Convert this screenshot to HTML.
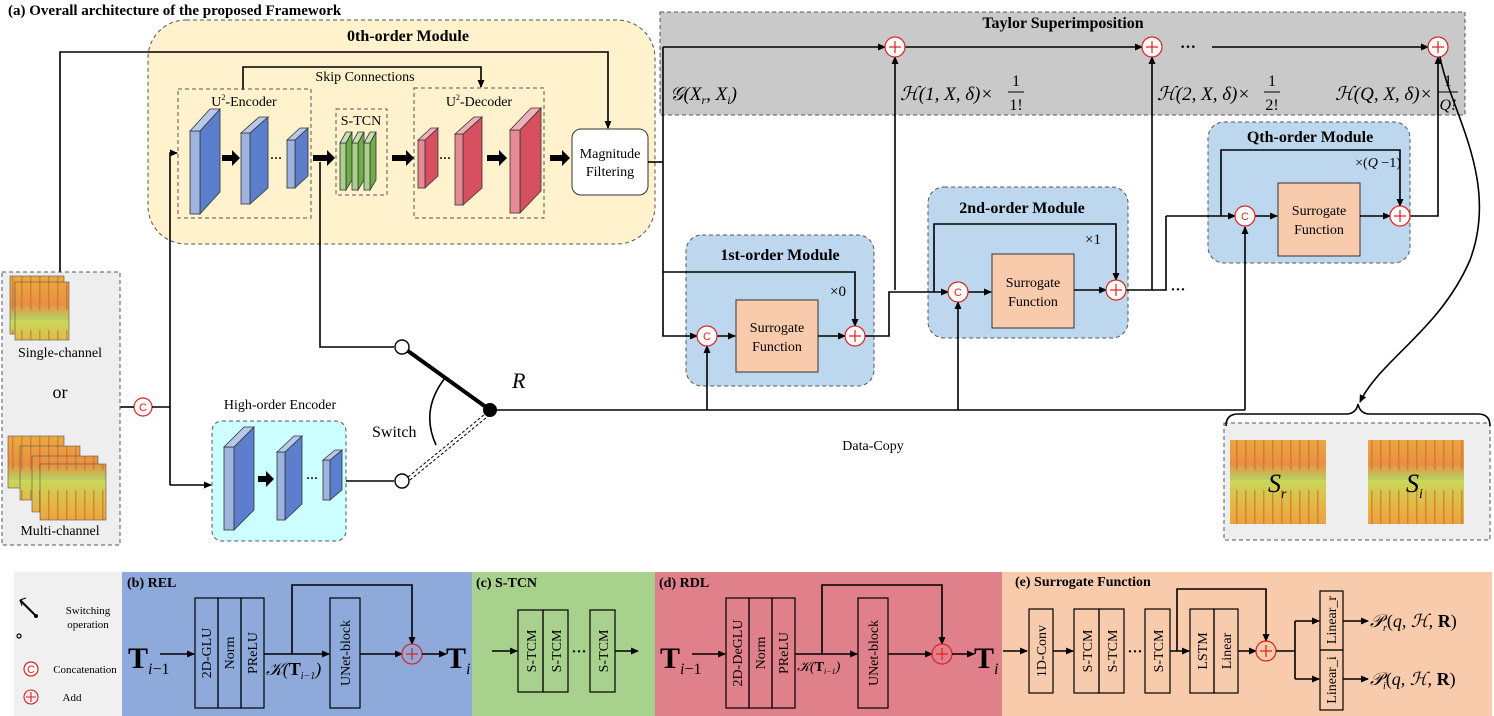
<!DOCTYPE html>
<html><head><meta charset="utf-8"><style>
html,body{margin:0;padding:0;background:#fff;}
svg{display:block;font-family:"Liberation Serif",serif;}
</style></head><body>
<svg width="1494" height="716" viewBox="0 0 1494 716" xmlns="http://www.w3.org/2000/svg">
<defs>
<marker id="a" markerWidth="8" markerHeight="8" refX="7" refY="4" orient="auto" markerUnits="userSpaceOnUse"><path d="M0,0.5 L8,4 L0,7.5 z" fill="#000"/></marker>
<linearGradient id="sp" x1="0" y1="0" x2="0" y2="1"><stop offset="0" stop-color="#c8d85a"/><stop offset="0.4" stop-color="#e8b040"/><stop offset="0.8" stop-color="#e89040"/><stop offset="1" stop-color="#b8d060"/></linearGradient>
<pattern id="st" width="9" height="80" patternUnits="userSpaceOnUse"><rect width="9" height="80" fill="url(#sp)"/><rect x="3" y="10" width="1.5" height="60" fill="#d06030" opacity="0.6"/></pattern>
</defs>
<style>
.l{stroke:#000;stroke-width:1.6;fill:none}
.d{stroke:#555;stroke-width:1;stroke-dasharray:4 3;fill:none}
.t{font-size:14px}
.b{font-weight:bold}
.c{fill:#fff;stroke:#e02020;stroke-width:1.2}
.ct{fill:#e02020;font-size:11px;font-family:"Liberation Sans",sans-serif}
</style>

<text x="8" y="15" class="b" font-size="15">(a) Overall architecture of the proposed Framework</text>

<rect x="148" y="20" width="507" height="224" rx="38" fill="#fff2cc" stroke="#555" stroke-dasharray="4 3"/>
<text x="408" y="41" class="b" font-size="16" text-anchor="middle">0th-order Module</text>

<rect x="660" y="12" width="805" height="103" fill="#c9c9c9" stroke="#555" stroke-dasharray="4 3"/>
<text x="1063" y="28" class="b" font-size="16" text-anchor="middle">Taylor Superimposition</text>

<!-- modules backgrounds first -->
<rect x="686" y="235" width="188" height="151" rx="16" fill="#bdd7ee" stroke="#555" stroke-dasharray="4 3"/>
<rect x="928" y="187" width="200" height="151" rx="16" fill="#bdd7ee" stroke="#555" stroke-dasharray="4 3"/>
<rect x="1208" y="122" width="202" height="141" rx="16" fill="#bdd7ee" stroke="#555" stroke-dasharray="4 3"/>

<polyline class="l" points="60,275 60,52 608,52 608,128" marker-end="url(#a)"/>
<polyline class="l" points="243,90 243,67 481,67 481,87" marker-end="url(#a)"/>
<text x="365" y="81" class="t" text-anchor="middle">Skip Connections</text>

<rect x="178" y="89" width="133" height="129" class="d" stroke="#333"/>
<text x="244" y="106" class="t" text-anchor="middle">U<tspan font-size="8" dy="-6">2</tspan><tspan dy="6">-Encoder</tspan></text>
<rect x="336" y="109" width="51" height="86" class="d" stroke="#333"/>
<text x="361" y="125" class="t" text-anchor="middle">S-TCN</text>
<rect x="414" y="88" width="130" height="130" class="d" stroke="#333"/>
<text x="479" y="106" class="t" text-anchor="middle">U<tspan font-size="8" dy="-6">2</tspan><tspan dy="6">-Decoder</tspan></text>

<g stroke="#333" stroke-width="0.8">
<polygon points="200,131 220,109 220,192 200,214" fill="#5b7fcc"/><rect x="190" y="131" width="10" height="83" fill="#9db3e0"/><polygon points="190,131 210,109 220,109 200,131" fill="#b8c8ea"/>
<polygon points="250,133 268,117 268,188 250,204" fill="#5b7fcc"/><rect x="241" y="133" width="9" height="71" fill="#9db3e0"/><polygon points="241,133 259,117 268,117 250,133" fill="#b8c8ea"/>
<polygon points="295,140 308,128 308,176 295,188" fill="#5b7fcc"/><rect x="287" y="140" width="8" height="48" fill="#9db3e0"/><polygon points="287,140 300,128 308,128 295,140" fill="#b8c8ea"/>
<polygon points="346,143 352,132 352,180 346,190" fill="#70ad47"/><rect x="340" y="143" width="6" height="47" fill="#a9d18e"/><polygon points="340,143 346,132 352,132 346,143" fill="#c5e0b4"/>
<polygon points="358,143 364,132 364,180 358,190" fill="#70ad47"/><rect x="352" y="143" width="6" height="47" fill="#a9d18e"/><polygon points="352,143 358,132 364,132 358,143" fill="#c5e0b4"/>
<polygon points="370,143 376,132 376,180 370,190" fill="#70ad47"/><rect x="364" y="143" width="6" height="47" fill="#a9d18e"/><polygon points="364,143 370,132 376,132 370,143" fill="#c5e0b4"/>
<polygon points="425,140 438,128 438,176 425,188" fill="#d6505f"/><rect x="418" y="140" width="7" height="48" fill="#e88a94"/><polygon points="418,140 431,128 438,128 425,140" fill="#f0b0b8"/>
<polygon points="463,134 482,117 482,188 463,205" fill="#d6505f"/><rect x="455" y="134" width="8" height="71" fill="#e88a94"/><polygon points="455,134 474,117 482,117 463,134" fill="#f0b0b8"/>
<polygon points="520,130 541,108 541,191 520,213" fill="#d6505f"/><rect x="510" y="130" width="10" height="83" fill="#e88a94"/><polygon points="510,130 531,108 541,108 520,130" fill="#f0b0b8"/>
</g>
<g fill="#000">
<path d="M222,155 h10 v-5 l8,8 -8,8 v-5 h-10z"/>
<path d="M313,155 h14 v-5 l8,8 -8,8 v-5 h-14z"/>
<path d="M392,155 h14 v-5 l8,8 -8,8 v-5 h-14z"/>
<path d="M487,155 h12 v-5 l8,8 -8,8 v-5 h-12z"/>
<path d="M550,155 h12 v-5 l8,8 -8,8 v-5 h-12z"/>
</g>
<text x="276" y="162" font-size="12" text-anchor="middle" class="b">···</text>
<text x="445" y="162" font-size="12" text-anchor="middle" class="b">···</text>

<rect x="572" y="129" width="76" height="66" rx="9" fill="#fff" stroke="#333"/>
<text x="610" y="158" class="t" text-anchor="middle">Magnitude</text>
<text x="610" y="176" class="t" text-anchor="middle">Filtering</text>

<polyline class="l" points="648,162 663,162"/>
<polyline class="l" points="663,47 663,336 697,336" marker-end="url(#a)"/>
<polyline class="l" points="663,47 885,47" marker-end="url(#a)"/>
<polyline class="l" points="663,272 855,272 855,326" marker-end="url(#a)"/>

<polyline class="l" points="905,47 1142,47" marker-end="url(#a)"/>
<text x="1188" y="52" font-size="16" class="b" text-anchor="middle">···</text>
<polyline class="l" points="1212,47 1428,47" marker-end="url(#a)"/>
<g font-size="19" font-style="italic">
<text x="670" y="100">𝒢(X<tspan font-size="12" dy="4">r</tspan><tspan dy="-4">, X</tspan><tspan font-size="12" dy="4">i</tspan><tspan dy="-4">)</tspan></text>
<text x="900" y="100">ℋ(1, X, δ)×</text>
<text x="1157" y="100">ℋ(2, X, δ)×</text>
<text x="1335" y="100">ℋ(Q, X, δ)×</text>
</g>
<g font-size="16" text-anchor="middle">
<text x="1016" y="86">1</text><line x1="1008" y1="92" x2="1024" y2="92" stroke="#000"/><text x="1016" y="110">1!</text>
<text x="1272" y="86">1</text><line x1="1264" y1="92" x2="1280" y2="92" stroke="#000"/><text x="1272" y="110">2!</text>
<text x="1448" y="86">1</text><line x1="1438" y1="92" x2="1458" y2="92" stroke="#000"/><text x="1448" y="110" font-style="italic">Q!</text>
</g>

<text x="780" y="260" class="b" font-size="16" text-anchor="middle">1st-order Module</text>
<rect x="736" y="300" width="82" height="72" fill="#f8cbad" stroke="#333"/>
<text x="777" y="332" class="t" text-anchor="middle">Surrogate</text>
<text x="777" y="351" class="t" text-anchor="middle">Function</text>
<text x="838" y="296" font-size="15" text-anchor="middle">×0</text>
<text x="1022" y="213" class="b" font-size="16" text-anchor="middle">2nd-order Module</text>
<rect x="992" y="254" width="82" height="74" fill="#f8cbad" stroke="#333"/>
<text x="1033" y="287" class="t" text-anchor="middle">Surrogate</text>
<text x="1033" y="306" class="t" text-anchor="middle">Function</text>
<text x="1093" y="244" font-size="15" text-anchor="middle">×1</text>
<text x="1310" y="142" class="b" font-size="16" text-anchor="middle">Qth-order Module</text>
<rect x="1278" y="183" width="82" height="73" fill="#f8cbad" stroke="#333"/>
<text x="1319" y="215" class="t" text-anchor="middle">Surrogate</text>
<text x="1319" y="234" class="t" text-anchor="middle">Function</text>
<text x="1378" y="167" font-size="14" text-anchor="middle">×(<tspan font-style="italic">Q</tspan> −1)</text>

<polyline class="l" points="717,336 735,336" marker-end="url(#a)"/>
<polyline class="l" points="818,336 845,336" marker-end="url(#a)"/>
<polyline class="l" points="865,336 889,336 889,292 948,292" marker-end="url(#a)"/>
<polyline class="l" points="895,290 895,57" marker-end="url(#a)"/>
<polyline class="l" points="934,292 934,224 1116,224 1116,280" marker-end="url(#a)"/>
<polyline class="l" points="968,292 991,292" marker-end="url(#a)"/>
<polyline class="l" points="1074,290 1106,290" marker-end="url(#a)"/>
<polyline class="l" points="1126,290 1152,290 1152,57" marker-end="url(#a)"/>
<polyline class="l" points="1152,290 1166,290 1166,216"/>
<polyline class="l" points="1166,216 1235,216" marker-end="url(#a)"/>
<text x="1178" y="294" font-size="15" class="b" text-anchor="middle">···</text>
<polyline class="l" points="1221,216 1221,150 1400,150 1400,206" marker-end="url(#a)"/>
<polyline class="l" points="1255,216 1277,216" marker-end="url(#a)"/>
<polyline class="l" points="1360,216 1390,216" marker-end="url(#a)"/>
<polyline class="l" points="1410,216 1438,216 1438,57" marker-end="url(#a)"/>

<polyline class="l" points="490,410 1245,410"/>
<polyline class="l" points="707,410 707,346" marker-end="url(#a)"/>
<polyline class="l" points="958,410 958,302" marker-end="url(#a)"/>
<polyline class="l" points="1245,410 1245,227" marker-end="url(#a)"/>
<text x="873" y="450" class="t" text-anchor="middle">Data-Copy</text>

<g>
<circle cx="707" cy="336" r="10" class="c"/><text x="707" y="340" class="ct" text-anchor="middle">C</text>
<circle cx="958" cy="292" r="10" class="c"/><text x="958" y="296" class="ct" text-anchor="middle">C</text>
<circle cx="1245" cy="216" r="10" class="c"/><text x="1245" y="220" class="ct" text-anchor="middle">C</text>
<circle cx="143" cy="407" r="9" class="c"/><text x="143" y="411" class="ct" text-anchor="middle">C</text>
</g>
<g stroke="#e02020" stroke-width="1.2">
<circle cx="855" cy="336" r="10" fill="#fff"/><path d="M849,336h12M855,330v12"/>
<circle cx="1116" cy="290" r="10" fill="#fff"/><path d="M1110,290h12M1116,284v12"/>
<circle cx="1400" cy="216" r="10" fill="#fff"/><path d="M1394,216h12M1400,210v12"/>
<circle cx="895" cy="47" r="10" fill="#fff"/><path d="M889,47h12M895,41v12"/>
<circle cx="1152" cy="47" r="10" fill="#fff"/><path d="M1146,47h12M1152,41v12"/>
<circle cx="1438" cy="47" r="10" fill="#fff"/><path d="M1432,47h12M1438,41v12"/>
</g>

<polyline class="l" points="320,162 320,347 394,347"/>
<polyline class="l" points="170,485 170,153 177,153" marker-end="url(#a)"/>
<polyline class="l" points="120,407 134,407"/>
<polyline class="l" points="152,407 170,407"/>
<polyline class="l" points="170,485 211,485" marker-end="url(#a)"/>
<rect x="212" y="421" width="134" height="120" rx="10" fill="#ccffff" stroke="#555" stroke-dasharray="4 3"/>
<text x="280" y="409" class="t" text-anchor="middle">High-order Encoder</text>
<g stroke="#333" stroke-width="0.8">
<polygon points="234,447 254,427 254,510 234,530" fill="#5b7fcc"/><rect x="224" y="447" width="10" height="83" fill="#9db3e0"/><polygon points="224,447 244,427 254,427 234,447" fill="#b8c8ea"/>
<polygon points="285,452 302,436 302,504 285,520" fill="#5b7fcc"/><rect x="277" y="452" width="8" height="68" fill="#9db3e0"/><polygon points="277,452 294,436 302,436 285,452" fill="#b8c8ea"/>
<polygon points="330,460 342,450 342,490 330,500" fill="#5b7fcc"/><rect x="323" y="460" width="7" height="40" fill="#9db3e0"/><polygon points="323,460 335,450 342,450 330,460" fill="#b8c8ea"/>
</g>
<path d="M258,476 h8 v-5 l8,8 -8,8 v-5 h-8z" fill="#000"/>
<text x="312" y="482" font-size="12" class="b" text-anchor="middle">···</text>
<polyline class="l" points="346,481 394,481"/>
<circle cx="402" cy="347" r="7" fill="#fff" stroke="#000" stroke-width="1.4"/>
<circle cx="402" cy="481" r="7" fill="#fff" stroke="#000" stroke-width="1.4"/>
<line x1="408" y1="351" x2="490" y2="410" stroke="#000" stroke-width="4"/>
<line x1="408" y1="477" x2="490" y2="410" stroke="#000" stroke-width="1" stroke-dasharray="3 2"/>
<line x1="410" y1="480" x2="492" y2="413" stroke="#000" stroke-width="1" stroke-dasharray="3 2"/>
<circle cx="490" cy="410" r="7" fill="#000"/>
<path d="M445,378 Q420,410 436,445" class="l" stroke-width="1.2"/>
<text x="372" y="437" font-size="16">Switch</text>
<text x="512" y="388" font-size="22" font-style="italic">R</text>

<rect x="2" y="272" width="118" height="273" fill="#eeeeee" stroke="#555" stroke-dasharray="4 3"/>
<rect x="10" y="276" width="54" height="58" fill="url(#st)" stroke="#555" stroke-width="0.6"/>
<rect x="15" y="282" width="54" height="58" fill="url(#st)" stroke="#555" stroke-width="0.6"/>
<text x="60" y="357" class="t" text-anchor="middle">Single-channel</text>
<text x="60" y="398" font-size="18" text-anchor="middle">or</text>
<rect x="8" y="436" width="56" height="52" fill="url(#st)" stroke="#555" stroke-width="0.6"/>
<rect x="20" y="446" width="60" height="54" fill="url(#st)" stroke="#555" stroke-width="0.6"/>
<rect x="32" y="456" width="66" height="56" fill="url(#st)" stroke="#555" stroke-width="0.6"/>
<rect x="40" y="464" width="66" height="56" fill="url(#st)" stroke="#555" stroke-width="0.6"/>
<text x="60" y="535" class="t" text-anchor="middle">Multi-channel</text>

<rect x="1224" y="423" width="266" height="117" fill="#eeeeee" stroke="#555" stroke-dasharray="4 3"/>
<rect x="1230" y="440" width="96" height="84" fill="url(#st)"/>
<rect x="1368" y="440" width="96" height="84" fill="url(#st)"/>
<text x="1268" y="492" font-size="26" font-style="italic">S<tspan font-size="14" dy="6">r</tspan></text>
<text x="1406" y="492" font-size="26" font-style="italic">S<tspan font-size="14" dy="6">i</tspan></text>
<path d="M1226,426 Q1226,414 1238,414 L1346,414 Q1356,414 1358,404 Q1360,414 1370,414 L1478,414 Q1490,414 1490,426" class="l" stroke-width="1.4"/>
<path d="M1440,57 C1450,110 1500,180 1470,260 C1440,330 1380,360 1360,402" class="l" stroke-width="1.3" marker-end="url(#a)"/>

<rect x="14" y="572" width="108" height="144" fill="#f0f0f0"/>
<rect x="122" y="572" width="350" height="144" fill="#8eaadb"/>
<rect x="472" y="572" width="183" height="144" fill="#a9d18e"/>
<rect x="655" y="572" width="347" height="144" fill="#e0808a"/>
<rect x="1002" y="572" width="490" height="144" fill="#f8cbad"/>

<line x1="20" y1="600" x2="36" y2="616" stroke="#000" stroke-width="2"/>
<circle cx="36" cy="616" r="2" fill="#000"/>
<path d="M20,600 l6,-2 M20,600 l2,6" stroke="#000" stroke-width="1"/>
<circle cx="19" cy="636" r="2" fill="none" stroke="#000" stroke-width="1.2"/>
<text x="88" y="614" font-size="11" text-anchor="middle">Switching</text>
<text x="88" y="628" font-size="11" text-anchor="middle">operation</text>
<circle cx="31" cy="669" r="7" class="c"/><text x="31" y="673" class="ct" text-anchor="middle">C</text>
<text x="85" y="673" font-size="11" text-anchor="middle">Concatenation</text>
<g stroke="#e02020" stroke-width="1.1"><circle cx="31" cy="697" r="7" fill="none"/><path d="M26,697h10M31,692v10"/></g>
<text x="72" y="701" font-size="11" text-anchor="middle">Add</text>

<text x="127" y="587" class="b" font-size="14">(b) REL</text>
<text x="128" y="668" font-size="30" class="b">T<tspan font-size="16" font-weight="normal" font-style="italic" dy="6">i</tspan><tspan font-size="16" font-weight="normal" dy="0">−1</tspan></text>
<polyline class="l" points="160,654 194,654" marker-end="url(#a)"/>
<g fill="none" stroke="#000" stroke-width="1.2">
<rect x="195" y="598" width="23" height="110"/><rect x="218" y="598" width="23" height="110"/><rect x="241" y="598" width="23" height="110"/>
<rect x="330" y="598" width="30" height="110"/>
</g>
<g font-size="14" text-anchor="middle">
<text transform="translate(211,653) rotate(-90)">2D-GLU</text>
<text transform="translate(234,653) rotate(-90)">Norm</text>
<text transform="translate(257,653) rotate(-90)">PReLU</text>
<text transform="translate(350,653) rotate(-90)">UNet-block</text>
</g>
<text x="266" y="675" font-size="18" font-style="italic">𝒦(<tspan class="b" font-style="normal">T</tspan><tspan font-size="10" dy="4">i−1</tspan><tspan dy="-4">)</tspan></text>
<polyline class="l" points="264,654 329,654" marker-end="url(#a)"/>
<polyline class="l" points="292,654 292,585 412,585 412,644" marker-end="url(#a)"/>
<polyline class="l" points="360,654 402,654" marker-end="url(#a)"/>
<g stroke="#e02020" stroke-width="1.2"><circle cx="412" cy="654" r="10" fill="none"/><path d="M406,654h12M412,648v12"/></g>
<polyline class="l" points="422,654 446,654" marker-end="url(#a)"/>
<text x="446" y="668" font-size="30" class="b">T<tspan font-size="16" font-weight="normal" font-style="italic" dy="6">i</tspan></text>

<text x="476" y="587" class="b" font-size="14">(c) S-TCN</text>
<polyline class="l" points="492,651 517,651" marker-end="url(#a)"/>
<g fill="none" stroke="#000" stroke-width="1.2"><rect x="518" y="610" width="25" height="82"/><rect x="543" y="610" width="25" height="82"/><rect x="590" y="610" width="25" height="82"/></g>
<g font-size="14" text-anchor="middle">
<text transform="translate(536,651) rotate(-90)">S-TCM</text>
<text transform="translate(561,651) rotate(-90)">S-TCM</text>
<text transform="translate(608,651) rotate(-90)">S-TCM</text>
</g>
<text x="579" y="656" font-size="15" text-anchor="middle" class="b">···</text>
<polyline class="l" points="615,651 638,651" marker-end="url(#a)"/>

<text x="659" y="587" class="b" font-size="14">(d) RDL</text>
<text x="660" y="668" font-size="30" class="b">T<tspan font-size="16" font-weight="normal" font-style="italic" dy="6">i</tspan><tspan font-size="16" font-weight="normal">−1</tspan></text>
<polyline class="l" points="692,654 725,654" marker-end="url(#a)"/>
<g fill="none" stroke="#000" stroke-width="1.2">
<rect x="726" y="598" width="23" height="110"/><rect x="749" y="598" width="23" height="110"/><rect x="772" y="598" width="23" height="110"/>
<rect x="858" y="598" width="30" height="110"/>
</g>
<g font-size="14" text-anchor="middle">
<text transform="translate(742,653) rotate(-90)">2D-DeGLU</text>
<text transform="translate(765,653) rotate(-90)">Norm</text>
<text transform="translate(788,653) rotate(-90)">PReLU</text>
<text transform="translate(878,653) rotate(-90)">UNet-block</text>
</g>
<text x="797" y="671" font-size="14" font-style="italic">𝒦(<tspan class="b" font-style="normal">T</tspan><tspan font-size="8" dy="3">i−1</tspan><tspan dy="-3">)</tspan></text>
<polyline class="l" points="795,654 857,654" marker-end="url(#a)"/>
<polyline class="l" points="822,654 822,585 942,585 942,644" marker-end="url(#a)"/>
<polyline class="l" points="888,654 932,654" marker-end="url(#a)"/>
<g stroke="#e02020" stroke-width="1.2"><circle cx="942" cy="654" r="10" fill="none"/><path d="M936,654h12M942,648v12"/></g>
<polyline class="l" points="952,654 974,654" marker-end="url(#a)"/>
<text x="974" y="668" font-size="30" class="b">T<tspan font-size="16" font-weight="normal" font-style="italic" dy="6">i</tspan></text>

<text x="1015" y="586" class="b" font-size="14">(e) Surrogate Function</text>
<polyline class="l" points="1003,651 1027,651" marker-end="url(#a)"/>
<g fill="none" stroke="#000" stroke-width="1.2">
<rect x="1029" y="609" width="24" height="84"/>
<rect x="1074" y="609" width="25" height="84"/><rect x="1099" y="609" width="25" height="84"/>
<rect x="1145" y="609" width="25" height="84"/>
<rect x="1190" y="609" width="24" height="84"/><rect x="1214" y="609" width="24" height="84"/>
<rect x="1320" y="591" width="23" height="59"/><rect x="1320" y="650" width="23" height="60"/>
</g>
<g font-size="14" text-anchor="middle">
<text transform="translate(1046,651) rotate(-90)">1D-Conv</text>
<text transform="translate(1092,651) rotate(-90)">S-TCM</text>
<text transform="translate(1117,651) rotate(-90)">S-TCM</text>
<text transform="translate(1163,651) rotate(-90)">S-TCM</text>
<text transform="translate(1207,651) rotate(-90)">LSTM</text>
<text transform="translate(1231,651) rotate(-90)">Linear</text>
<text transform="translate(1336,620) rotate(-90)">Linear_r</text>
<text transform="translate(1336,680) rotate(-90)">Linear_i</text>
</g>
<polyline class="l" points="1053,651 1073,651" marker-end="url(#a)"/>
<text x="1135" y="656" font-size="15" text-anchor="middle" class="b">···</text>
<polyline class="l" points="1170,651 1189,651" marker-end="url(#a)"/>
<polyline class="l" points="1177,651 1177,589 1266,589 1266,641" marker-end="url(#a)"/>
<polyline class="l" points="1238,651 1256,651" marker-end="url(#a)"/>
<g stroke="#e02020" stroke-width="1.2"><circle cx="1266" cy="651" r="10" fill="none"/><path d="M1260,651h12M1266,645v12"/></g>
<polyline class="l" points="1276,651 1295,651"/>
<polyline class="l" points="1295,621 1295,679"/>
<polyline class="l" points="1295,621 1319,621" marker-end="url(#a)"/>
<polyline class="l" points="1295,679 1319,679" marker-end="url(#a)"/>
<polyline class="l" points="1343,621 1368,621" marker-end="url(#a)"/>
<polyline class="l" points="1343,679 1368,679" marker-end="url(#a)"/>
<text x="1370" y="627" font-size="18" font-style="italic">𝒫<tspan font-size="10" dy="4">r</tspan><tspan dy="-4" font-style="normal">(</tspan>q, ℋ, <tspan class="b" font-style="normal">R</tspan><tspan font-style="normal">)</tspan></text>
<text x="1370" y="685" font-size="18" font-style="italic">𝒫<tspan font-size="10" dy="4">i</tspan><tspan dy="-4" font-style="normal">(</tspan>q, ℋ, <tspan class="b" font-style="normal">R</tspan><tspan font-style="normal">)</tspan></text>
</svg>
</body></html>
